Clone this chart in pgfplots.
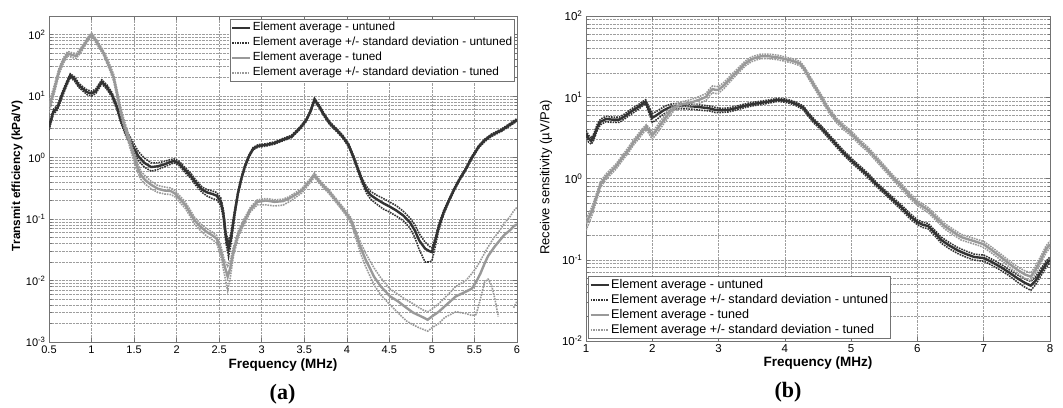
\documentclass[border=0pt]{standalone}
\usepackage{pgfplots}
\pgfplotsset{compat=1.18}
\usepackage{pgfplotstable}
\usepackage{fontspec}
\setmainfont{Liberation Sans}
\newfontfamily\panelfont{Liberation Serif}

\definecolor{untuned}{rgb}{0.2,0.2,0.2}
\definecolor{tuned}{rgb}{0.6,0.6,0.6}
\definecolor{gridgray}{rgb}{0.62,0.62,0.62}
\definecolor{framegray}{rgb}{0.45,0.45,0.45}

% Transmit efficiency, kPa/V: frequency, mean, mean+std, mean-std
\pgfplotstableread{
f m u l
0.50 3.1 3.4 2.8
0.55 5.5 6.0 5.0
0.60 6.5 7.1 6.0
0.66 11 12 10
0.70 15 16.3 13.8
0.75 21.5 23 20
0.80 19 20.5 17.5
0.85 15 16.2 13.8
0.90 13 14 12
0.95 11.5 12.5 10.5
1.00 11 12 10
1.05 12 13 11
1.12 17 18.3 15.7
1.18 14 15.2 12.9
1.24 10.5 11.4 9.6
1.30 6.5 7.1 5.9
1.34 4.2 4.7 3.8
1.40 2.6 3.0 2.3
1.45 1.9 2.2 1.65
1.50 1.4 1.65 1.2
1.55 1.05 1.25 0.9
1.62 0.82 0.98 0.70
1.70 0.70 0.82 0.60
1.78 0.72 0.82 0.64
1.85 0.77 0.86 0.70
1.92 0.84 0.92 0.77
1.97 0.88 0.95 0.82
2.03 0.80 0.87 0.74
2.10 0.62 0.68 0.57
2.16 0.52 0.57 0.47
2.22 0.40 0.44 0.36
2.30 0.30 0.33 0.27
2.36 0.27 0.30 0.235
2.42 0.255 0.285 0.215
2.47 0.24 0.27 0.205
2.52 0.19 0.22 0.165
2.55 0.12 0.14 0.10
2.58 0.05 0.06 0.04
2.61 0.033 0.042 0.024
2.64 0.05 0.06 0.04
2.68 0.12 0.135 0.105
2.72 0.26 0.28 0.24
2.76 0.45 0.48 0.42
2.80 0.70 0.74 0.66
2.85 1.05 1.10 1.0
2.90 1.40 1.46 1.34
2.96 1.55 1.62 1.48
3.05 1.60 1.67 1.53
3.15 1.72 1.80 1.65
3.25 1.95 2.04 1.87
3.35 2.2 2.3 2.1
3.45 3.0 3.15 2.87
3.52 4.0 4.2 3.8
3.57 5.5 5.8 5.2
3.62 8.7 9.2 8.2
3.67 7 7.4 6.6
3.73 5 5.3 4.7
3.80 3.6 3.8 3.4
3.88 2.8 2.95 2.65
3.95 2.2 2.32 2.08
4.02 1.6 1.7 1.5
4.08 1.0 1.07 0.93
4.13 0.65 0.70 0.60
4.18 0.42 0.46 0.38
4.23 0.30 0.34 0.265
4.28 0.245 0.28 0.21
4.35 0.21 0.245 0.175
4.43 0.18 0.215 0.145
4.50 0.16 0.19 0.13
4.58 0.138 0.165 0.112
4.66 0.115 0.135 0.095
4.74 0.089 0.105 0.072
4.80 0.065 0.08 0.05
4.85 0.045 0.058 0.032
4.92 0.033 0.042 0.020
4.97 0.030 0.036 0.020
5.00 0.029 0.034 0.021
5.04 0.045 0.05 0.036
5.08 0.075 0.082 0.066
5.14 0.13 0.14 0.12
5.20 0.20 0.21 0.19
5.26 0.30 0.315 0.285
5.32 0.43 0.45 0.41
5.39 0.62 0.65 0.59
5.47 1.0 1.05 0.95
5.55 1.5 1.57 1.43
5.62 1.9 1.99 1.81
5.70 2.3 2.4 2.2
5.82 2.8 2.93 2.67
5.90 3.3 3.45 3.15
6.00 4.1 4.3 3.9
}\txuntuned

\pgfplotstableread{
f m u l
0.50 6.6 8.0 5.4
0.55 11 13 9.5
0.62 26 29 23
0.67 38 42 34
0.72 49 53 45
0.78 46 50 42
0.82 45 49 41
0.86 52 57 48
0.90 63 68 58
0.95 82 88 76
1.00 100 106 92
1.05 80 86 74
1.10 62 67 57
1.14 50 54 46
1.18 38 42 34
1.22 28 31 25
1.26 20 22.5 17.5
1.30 11 12.5 9.6
1.34 5.9 6.8 5.1
1.38 3.6 4.2 3.1
1.42 2.4 2.8 2.05
1.47 1.4 1.65 1.18
1.53 0.75 0.88 0.63
1.58 0.52 0.60 0.44
1.63 0.43 0.50 0.37
1.70 0.36 0.41 0.31
1.78 0.31 0.35 0.27
1.86 0.29 0.33 0.255
1.93 0.285 0.32 0.25
1.98 0.26 0.29 0.23
2.04 0.21 0.235 0.185
2.10 0.17 0.19 0.15
2.16 0.125 0.14 0.11
2.21 0.095 0.107 0.083
2.28 0.075 0.084 0.065
2.35 0.062 0.07 0.053
2.42 0.054 0.061 0.046
2.47 0.048 0.054 0.041
2.52 0.030 0.036 0.024
2.56 0.018 0.022 0.013
2.60 0.0115 0.017 0.0068
2.63 0.016 0.021 0.011
2.67 0.031 0.036 0.026
2.73 0.06 0.067 0.053
2.80 0.095 0.105 0.085
2.87 0.145 0.158 0.132
2.95 0.19 0.205 0.17
3.05 0.20 0.215 0.17
3.15 0.19 0.205 0.163
3.25 0.195 0.21 0.168
3.32 0.215 0.23 0.19
3.40 0.25 0.27 0.225
3.47 0.29 0.31 0.265
3.52 0.35 0.375 0.32
3.57 0.42 0.45 0.39
3.62 0.52 0.56 0.48
3.67 0.42 0.45 0.39
3.72 0.35 0.375 0.325
3.78 0.29 0.31 0.27
3.85 0.22 0.235 0.205
3.93 0.16 0.172 0.148
4.00 0.12 0.13 0.11
4.05 0.095 0.104 0.086
4.10 0.06 0.068 0.052
4.16 0.035 0.042 0.028
4.22 0.022 0.028 0.017
4.27 0.016 0.021 0.012
4.32 0.0115 0.016 0.0085
4.40 0.0080 0.011 0.0058
4.51 0.0055 0.0072 0.0040
4.60 0.0046 0.0060 0.0030
4.70 0.0036 0.0048 0.0022
4.78 0.0030 0.0042 0.0019
4.85 0.0027 0.0036 0.0017
4.90 0.0025 0.0033 0.0016
4.95 0.0023 0.0031 0.0015
5.00 0.0026 0.0034 0.0017
5.08 0.0031 0.0042 0.0020
5.15 0.0038 0.0052 0.0025
5.28 0.0055 0.0080 0.0031
5.40 0.0066 0.010 0.0029
5.47 0.0074 0.013 0.0027
5.52 0.0095 0.016 0.0028
5.57 0.013 0.021 0.005
5.62 0.019 0.028 0.0095
5.66 0.025 0.035 0.0105
5.70 0.030 0.043 0.0085
5.74 0.036 0.052 0.005
5.78 0.042 0.060 0.0026
5.85 0.055 0.085 nan
5.92 0.066 0.11 nan
5.96 0.076 0.135 0.0036
6.00 0.082 0.155 0.0046
}\txtuned

% Receive sensitivity, uV/Pa: frequency, mean, mean+std, mean-std
\pgfplotstableread{
f m u l
1.00 3.6 3.9 3.3
1.04 3.1 3.4 2.8
1.08 2.9 3.15 2.65
1.12 3.3 3.6 3.0
1.17 4.3 4.65 3.95
1.22 5.0 5.4 4.6
1.30 5.4 5.8 5.0
1.40 5.3 5.7 4.9
1.50 5.3 5.7 4.9
1.58 5.8 6.2 5.4
1.65 6.4 6.85 5.95
1.72 7.0 7.5 6.5
1.79 7.6 8.1 7.1
1.85 8.3 8.8 7.8
1.90 8.8 9.3 8.3
1.95 7.0 7.6 6.4
2.00 5.6 6.3 4.9
2.05 5.9 6.6 5.2
2.10 6.3 7.0 5.6
2.17 6.9 7.6 6.2
2.23 7.3 8.0 6.6
2.30 7.7 8.3 7.1
2.40 7.8 8.4 7.2
2.50 7.8 8.3 7.2
2.62 7.7 8.2 7.1
2.75 7.5 8.0 6.9
2.86 7.3 7.8 6.8
2.95 7.0 7.5 6.5
3.05 6.9 7.3 6.5
3.15 7.0 7.4 6.6
3.25 7.3 7.7 6.9
3.38 7.8 8.2 7.4
3.50 8.2 8.6 7.8
3.62 8.5 8.9 8.1
3.74 8.8 9.2 8.4
3.89 9.3 9.7 8.9
4.00 9.1 9.5 8.7
4.08 8.8 9.2 8.4
4.18 8.2 8.6 7.8
4.28 7.4 7.8 7.0
4.35 6.2 6.55 5.85
4.45 5.0 5.3 4.7
4.55 4.2 4.45 3.95
4.65 3.4 3.6 3.2
4.76 2.7 2.86 2.54
4.88 2.1 2.23 1.97
5.00 1.68 1.78 1.58
5.13 1.35 1.43 1.27
5.26 1.08 1.15 1.01
5.38 0.85 0.9 0.8
5.51 0.68 0.72 0.64
5.63 0.55 0.585 0.515
5.76 0.44 0.47 0.41
5.88 0.35 0.375 0.325
6.00 0.29 0.31 0.27
6.08 0.27 0.29 0.25
6.16 0.26 0.28 0.24
6.26 0.215 0.232 0.198
6.36 0.175 0.19 0.16
6.48 0.15 0.163 0.137
6.61 0.13 0.141 0.119
6.74 0.117 0.127 0.107
6.86 0.108 0.117 0.099
7.00 0.105 0.114 0.096
7.13 0.093 0.101 0.085
7.26 0.081 0.088 0.074
7.38 0.07 0.076 0.064
7.51 0.059 0.065 0.053
7.62 0.052 0.058 0.046
7.71 0.048 0.054 0.042
7.78 0.055 0.061 0.049
7.86 0.07 0.077 0.063
7.94 0.088 0.096 0.08
8.00 0.10 0.108 0.092
}\rxuntuned

\pgfplotstableread{
f m u l
1.00 0.28 0.32 0.23
1.05 0.34 0.38 0.29
1.10 0.42 0.47 0.37
1.16 0.60 0.66 0.54
1.22 0.85 0.92 0.78
1.30 1.05 1.13 0.97
1.37 1.2 1.29 1.11
1.45 1.4 1.5 1.3
1.55 1.8 1.93 1.67
1.64 2.25 2.42 2.08
1.72 2.8 3.0 2.6
1.79 3.3 3.55 3.05
1.86 3.9 4.2 3.6
1.91 4.3 4.6 4.0
1.96 3.8 4.15 3.45
2.00 3.4 3.75 3.05
2.06 3.9 4.3 3.5
2.13 4.7 5.2 4.2
2.20 5.6 6.1 5.1
2.27 6.6 7.2 6.0
2.33 7.5 8.1 6.9
2.45 8.2 8.8 7.6
2.55 8.5 9.2 7.8
2.62 8.8 9.6 8.0
2.72 9.4 10.3 8.5
2.81 10.1 11.1 9.1
2.86 11.5 12.6 10.4
2.91 12.6 13.8 11.4
2.96 12.3 13.5 11.1
3.00 12.4 13.6 11.2
3.08 14 15.2 12.8
3.20 17.8 19.2 16.4
3.30 21.5 23 20
3.40 26 27.8 24.2
3.50 29.5 31.5 27.5
3.64 32 34 30
3.75 32 34 30
3.89 31 33 29
4.00 29.5 31.3 27.7
4.12 28 29.7 26.3
4.23 26 27.6 24.4
4.30 22 23.4 20.6
4.36 18 19.2 16.8
4.43 14.5 15.5 13.5
4.55 10 10.7 9.3
4.66 7.0 7.5 6.5
4.78 5.2 5.55 4.85
4.90 4.2 4.5 3.9
5.00 3.6 3.85 3.35
5.13 2.8 3.0 2.6
5.26 2.25 2.4 2.1
5.38 1.75 1.87 1.63
5.51 1.33 1.42 1.24
5.63 1.03 1.1 0.96
5.76 0.80 0.86 0.74
5.88 0.62 0.665 0.575
6.00 0.50 0.535 0.465
6.16 0.41 0.44 0.38
6.28 0.33 0.355 0.305
6.41 0.26 0.28 0.24
6.54 0.22 0.237 0.203
6.66 0.19 0.205 0.175
6.80 0.175 0.189 0.161
6.90 0.165 0.178 0.152
7.00 0.155 0.168 0.142
7.13 0.13 0.141 0.119
7.26 0.108 0.117 0.099
7.38 0.09 0.098 0.082
7.51 0.075 0.082 0.068
7.62 0.066 0.073 0.059
7.71 0.062 0.069 0.055
7.78 0.075 0.083 0.067
7.86 0.10 0.11 0.09
7.94 0.135 0.148 0.122
8.00 0.155 0.17 0.14
}\rxtuned

\begin{document}
\begin{tikzpicture}
\path[use as bounding box] (0pt,0pt) rectangle (1063pt,407pt);

% (a) transmit efficiency
\begin{axis}[
  at={(49pt,65pt)}, anchor=south west,
  scale only axis, width=468pt, height=326pt,
  ymode=log,
  xmin=0.5, xmax=6, ymin=1e-3, ymax=200,
  axis line style={framegray, line width=0.6pt},
  tick align=inside, major tick length=4pt, minor tick length=2.5pt,
  tick style={framegray, line width=0.5pt},
  grid=both,
  major grid style={densely dotted, gridgray, line width=0.5pt},
  minor grid style={densely dotted, gridgray, line width=0.5pt},
  ticklabel style={font=\fontsize{11}{12}\selectfont},
  /pgf/number format/assume math mode=true,
  xtick={0.5,1,1.5,2,2.5,3,3.5,4,4.5,5,5.5,6},
  xticklabels={0.5,1,1.5,2,2.5,3,3.5,4,4.5,5,5.5,6},
  ytick={1e-3,1e-2,1e-1,1,10,100},
  yticklabels={10\textsuperscript{-3},10\textsuperscript{-2},10\textsuperscript{-1},10\textsuperscript{0},10\textsuperscript{1},10\textsuperscript{2}},
  xlabel={Frequency (MHz)},
  ylabel={Transmit efficiency (kPa/V)},
  xlabel style={at={(axis description cs:0.5,0)}, anchor=center, yshift=-23pt, font=\bfseries\fontsize{13.5}{15}\selectfont},
  ylabel style={at={(axis description cs:0,0.5)}, anchor=center, yshift=32pt, xshift=3pt, font=\bfseries\fontsize{11.8}{14}\selectfont},
  legend cell align=left,
  legend style={at={(1,1)}, anchor=north east, xshift=-2pt, yshift=-3pt,
    font=\fontsize{11.8}{13}\selectfont, draw=framegray, line width=0.6pt,
    inner xsep=1pt, inner ysep=1pt,
    nodes={inner sep=1.5pt, text height=9pt, text depth=3pt}},
  legend image code/.code={\draw[#1] (0pt,0pt) -- (18pt,0pt);},
  unbounded coords=jump,
]
\addplot[untuned, line width=2.4pt] table[x=f, y=m] {\txuntuned};
\addlegendentry{Element average - untuned}
\addplot[untuned, densely dotted, line width=1.6pt] table[x=f, y=u] {\txuntuned};
\addlegendentry{Element average +/- standard deviation - untuned}
\addplot[untuned, densely dotted, line width=1.6pt, forget plot] table[x=f, y=l] {\txuntuned};
\addplot[tuned, line width=2.4pt] table[x=f, y=m] {\txtuned};
\addlegendentry{Element average - tuned}
\addplot[tuned, densely dotted, line width=1.6pt] table[x=f, y=u] {\txtuned};
\addlegendentry{Element average +/- standard deviation - tuned}
\addplot[tuned, densely dotted, line width=1.6pt, forget plot] table[x=f, y=l] {\txtuned};
\end{axis}

% (b) receive sensitivity
\begin{axis}[
  at={(586pt,66pt)}, anchor=south west,
  scale only axis, width=464pt, height=325pt,
  ymode=log,
  xmin=1, xmax=8, ymin=1e-2, ymax=100,
  axis line style={framegray, line width=0.6pt},
  tick align=inside, major tick length=4pt, minor tick length=2.5pt,
  tick style={framegray, line width=0.5pt},
  grid=both,
  major grid style={densely dotted, gridgray, line width=0.5pt},
  minor grid style={densely dotted, gridgray, line width=0.5pt},
  ticklabel style={font=\fontsize{11.5}{12}\selectfont},
  /pgf/number format/assume math mode=true,
  xtick={1,2,3,4,5,6,7,8},
  ytick={1e-2,1e-1,1,10,100},
  yticklabels={10\textsuperscript{-2},10\textsuperscript{-1},10\textsuperscript{0},10\textsuperscript{1},10\textsuperscript{2}},
  xlabel={Frequency (MHz)},
  ylabel={Receive sensitivity (µV/Pa)},
  xlabel style={at={(axis description cs:0.5,0)}, anchor=center, yshift=-22pt, font=\bfseries\fontsize{13.5}{15}\selectfont},
  ylabel style={at={(axis description cs:0,0.5)}, anchor=center, yshift=40pt, xshift=1pt, font=\fontsize{13}{15}\selectfont},
  legend cell align=left,
  legend style={at={(0,0)}, anchor=south west, xshift=2pt, yshift=2pt,
    font=\fontsize{12.6}{14}\selectfont, draw=framegray, line width=0.6pt,
    inner xsep=1pt, inner ysep=1pt,
    nodes={inner sep=1.5pt, text height=9pt, text depth=3pt}},
  legend image code/.code={\draw[#1] (0pt,0pt) -- (18pt,0pt);},
  unbounded coords=jump,
]
\addplot[untuned, line width=2.4pt] table[x=f, y=m] {\rxuntuned};
\addlegendentry{Element average - untuned}
\addplot[untuned, densely dotted, line width=1.6pt] table[x=f, y=u] {\rxuntuned};
\addlegendentry{Element average +/- standard deviation - untuned}
\addplot[untuned, densely dotted, line width=1.6pt, forget plot] table[x=f, y=l] {\rxuntuned};
\addplot[tuned, line width=2.4pt] table[x=f, y=m] {\rxtuned};
\addlegendentry{Element average - tuned}
\addplot[tuned, densely dotted, line width=1.6pt] table[x=f, y=u] {\rxtuned};
\addlegendentry{Element average +/- standard deviation - tuned}
\addplot[tuned, densely dotted, line width=1.6pt, forget plot] table[x=f, y=l] {\rxtuned};
\end{axis}

\node[font=\panelfont\bfseries\fontsize{22}{24}\selectfont] at (282.5pt,12.5pt) {(a)};
\node[font=\panelfont\bfseries\fontsize{22}{24}\selectfont] at (788pt,14.5pt) {(b)};
\end{tikzpicture}
\end{document}
